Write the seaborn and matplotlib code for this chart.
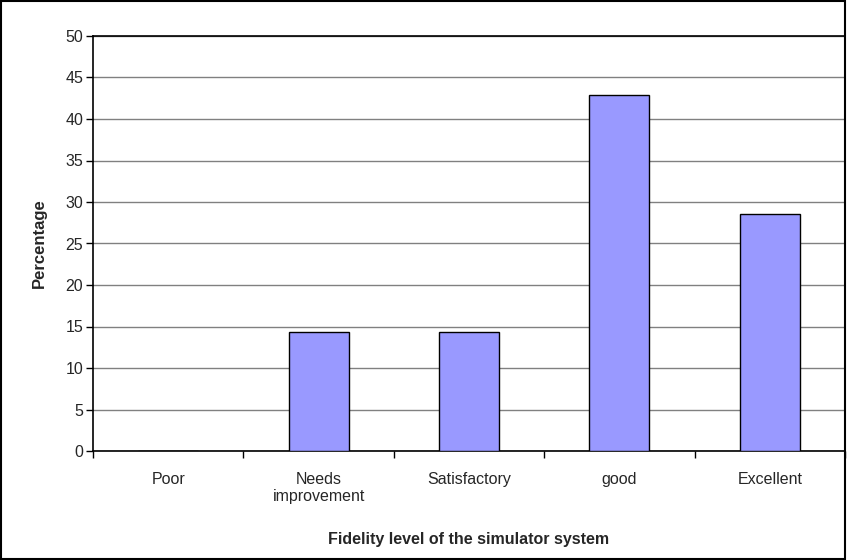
import matplotlib
matplotlib.use("Agg")
import matplotlib.pyplot as plt
from matplotlib.patches import Rectangle
import pandas as pd
import seaborn as sns

categories = ["Poor", "Needs\nimprovement", "Satisfactory", "good", "Excellent"]
percentages = [0.0, 14.3, 14.3, 42.9, 28.6]

sns.set_style("white")
plt.rcParams["font.family"] = ["Liberation Sans", "DejaVu Sans"]

df = pd.DataFrame({"level": categories, "pct": percentages})

fig = plt.figure(figsize=(8.47, 5.6), dpi=100)
ax = fig.add_axes([93 / 847, 1 - 451 / 560, 752 / 847, 415 / 560])

sns.barplot(data=df, x="level", y="pct", color="#9999FF", saturation=1,
            width=0.4, edgecolor="black", linewidth=1, ax=ax, zorder=3)

ax.set_ylim(0, 50)
ax.set_xlim(-0.5, len(categories) - 0.5)
ax.set_yticks(range(0, 51, 5))
ax.yaxis.grid(True, color="#808080", linewidth=1, zorder=0)
ax.set_axisbelow(True)

# category boundary ticks like Excel
ax.set_xticks([i - 0.5 for i in range(len(categories) + 1)], minor=True)
ax.tick_params(axis="x", which="major", length=0, pad=15, labelsize=11.5)
ax.tick_params(axis="x", which="minor", length=5, width=1, color="black", direction="out")
ax.tick_params(axis="y", length=5, width=1, color="black", direction="out", labelsize=11.5, pad=2)
ax.tick_params(bottom=True, left=True, which="both")

for side in ["left", "bottom", "top"]:
    ax.spines[side].set_color("black")
    ax.spines[side].set_linewidth(1.2)
ax.spines["right"].set_visible(False)

ax.set_xlabel("Fidelity level of the simulator system", fontsize=11.5, fontweight="bold", labelpad=20)
ax.set_ylabel("Percentage", fontsize=12, fontweight="bold", labelpad=13)

fig.patches.append(Rectangle((0.001, 0.002), 0.997, 0.996, transform=fig.transFigure,
                             fill=False, edgecolor="black", linewidth=1.5))

fig.savefig("out.png", dpi=100, facecolor="white")
